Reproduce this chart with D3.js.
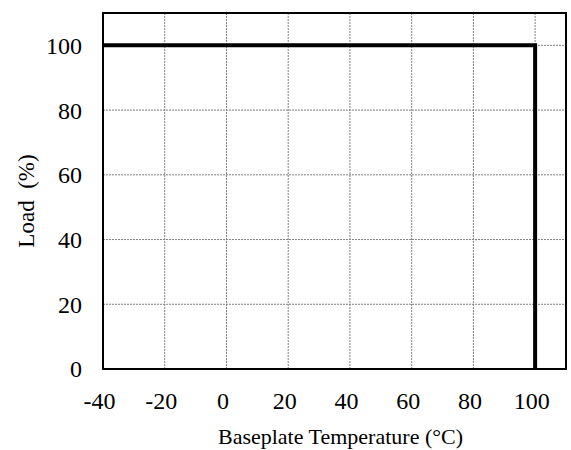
<!DOCTYPE html>
<html>
<head>
<meta charset="utf-8">
<script src="https://cdn.jsdelivr.net/npm/d3@7"></script>
<style>
  body { margin: 0; background: #fff; }
  text { font-family: "Liberation Serif", "Times New Roman", serif; fill: #000; }
</style>
</head>
<body>
<div id="chart"></div>
<script>
var width = 571, height = 450;
var margin = { left: 103, right: 5, top: 13, bottom: 81 };

// derating curve
var tempValues = [-40, 100, 100];
var loadValues = [100, 100, 0];
var xTicks = [-40, -20, 0, 20, 40, 60, 80, 100];
var yTicks = [0, 20, 40, 60, 80, 100];

var svg = d3.select("#chart").append("svg")
    .attr("width", width)
    .attr("height", height);

var x = d3.scaleLinear().domain([-40, 110]).range([margin.left, width - margin.right]);
var y = d3.scaleLinear().domain([0, 110]).range([height - margin.bottom, margin.top]);

// grid
svg.append("g").selectAll("line.vg").data(xTicks.slice(1)).enter().append("line")
    .attr("x1", d => x(d)).attr("x2", d => x(d))
    .attr("y1", y(0)).attr("y2", y(110))
    .attr("stroke", "#808080").attr("stroke-width", 1)
    .attr("stroke-dasharray", "2,1");
svg.append("g").selectAll("line.hg").data(yTicks.slice(1)).enter().append("line")
    .attr("x1", x(-40)).attr("x2", x(110))
    .attr("y1", d => y(d)).attr("y2", d => y(d))
    .attr("stroke", "#808080").attr("stroke-width", 1)
    .attr("stroke-dasharray", "2,1");

// axes (labels only)
var xAxis = svg.append("g")
    .attr("transform", "translate(0," + y(0) + ")")
    .call(d3.axisBottom(x).tickValues(xTicks).tickSize(0).tickPadding(0)
        .tickFormat(d => String(d)));
xAxis.select(".domain").remove();
xAxis.selectAll("text")
    .attr("y", 40).attr("dy", 0).attr("dx", -4)
    .style("font-size", "24px");

var yAxis = svg.append("g")
    .attr("transform", "translate(" + x(-40) + ",0)")
    .call(d3.axisLeft(y).tickValues(yTicks).tickSize(0).tickPadding(21)
        .tickFormat(d => String(d)));
yAxis.select(".domain").remove();
yAxis.selectAll("text")
    .attr("dy", "0.33em")
    .style("font-size", "24px");

// data line
var line = d3.line()
    .x(function(d) { return x(d[0]); })
    .y(function(d) { return y(d[1]); });

svg.append("path")
    .datum(d3.zip(tempValues, loadValues))
    .attr("d", line)
    .attr("fill", "none")
    .attr("stroke", "#000")
    .attr("stroke-width", 4)
    .attr("stroke-linejoin", "miter");

// plot border
svg.append("rect")
    .attr("x", x(-40)).attr("y", y(110))
    .attr("width", x(110) - x(-40))
    .attr("height", y(0) - y(110))
    .attr("fill", "none")
    .attr("stroke", "#000")
    .attr("stroke-width", 2);

// titles
svg.append("text")
    .attr("x", (x(-40) + x(110)) / 2 + 6)
    .attr("y", 444)
    .attr("text-anchor", "middle")
    .style("font-size", "22px")
    .text("Baseplate Temperature (°C)");

svg.append("text")
    .attr("transform", "translate(34,201) rotate(-90)")
    .attr("text-anchor", "middle")
    .style("font-size", "23px")
    .style("white-space", "pre")
    .text("Load  (%)");
</script>
</body>
</html>
